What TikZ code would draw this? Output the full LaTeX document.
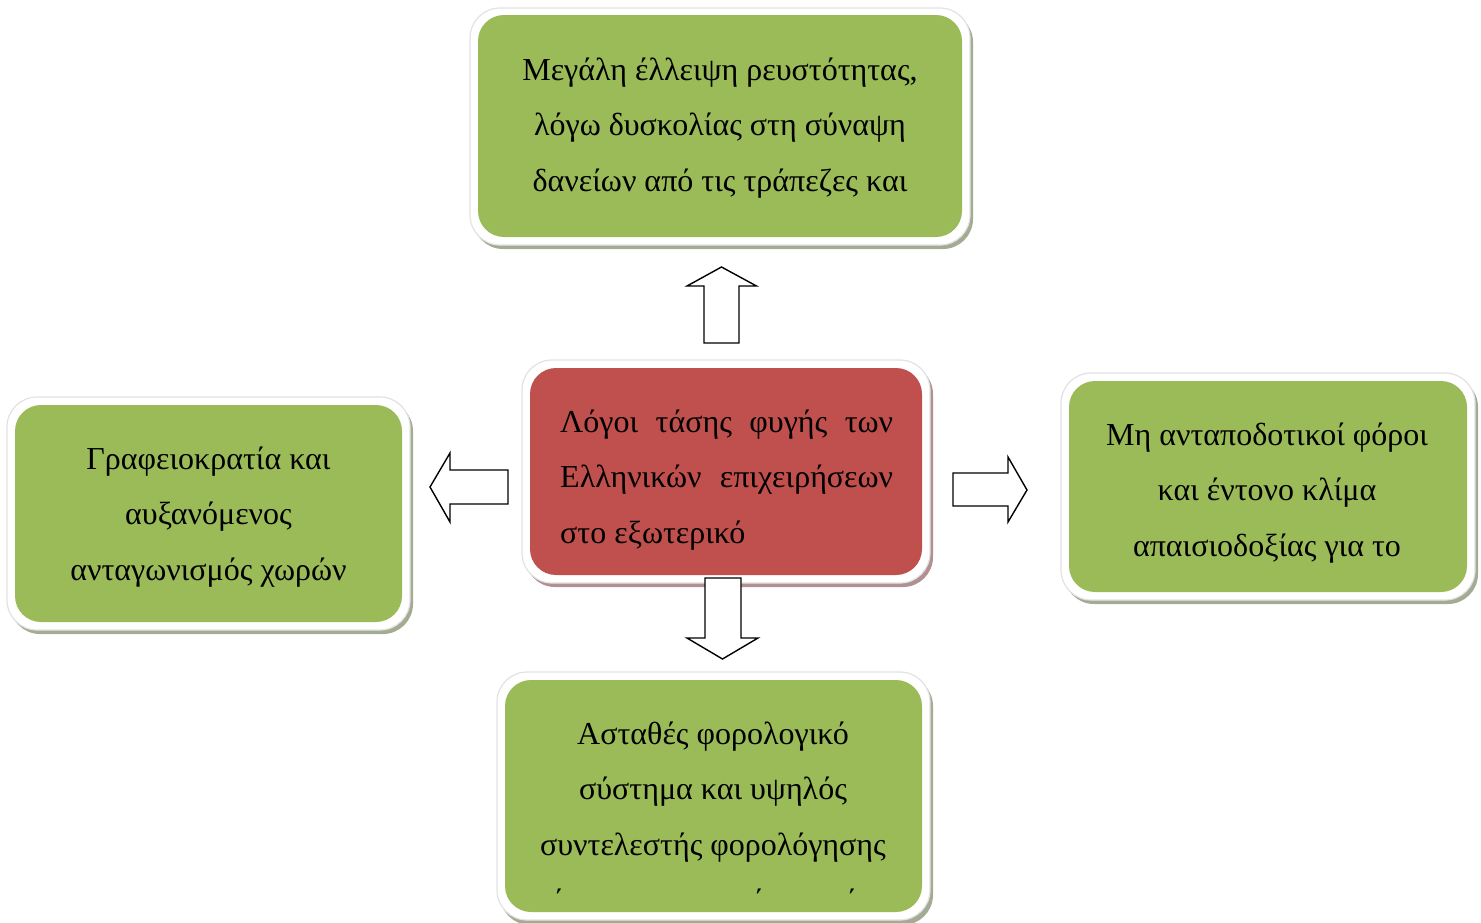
\documentclass[tikz,border=0pt]{standalone}
\usepackage{fontspec}
\setmainfont{Liberation Serif}
\definecolor{boxgreen}{HTML}{9BBB59}
\definecolor{boxred}{HTML}{C0504D}
\definecolor{frameedge}{HTML}{E2E2E2}
\definecolor{shadowgreen}{HTML}{A3AC93}
\definecolor{shadowred}{HTML}{B09090}
\begin{document}
\begin{tikzpicture}[x=1pt,y=-1pt,
  boxfill/.style={rounded corners=26pt, inner sep=0pt},
  frame/.style={rounded corners=30pt, fill=white, draw=frameedge, line width=1.2pt},
  txt/.style={inner sep=0pt, align=center, font=\fontsize{32}{55.5}\selectfont},
  blockarrow/.style={draw=black, line width=1.4pt, fill=white, line join=miter}]
\useasboundingbox (0,0) rectangle (1481,922);

% ---------- top box ----------
\fill[shadowgreen, rounded corners=30pt] (473,12) rectangle (973,249);
\draw[frame] (470,8) rectangle (970,245);
\node[boxfill, fill=boxgreen, minimum width=484pt, minimum height=222pt] (top) at (720,126) {};
\node[txt] (toptext) at (720,128) {Μεγάλη έλλειψη ρευστότητας,\\λόγω δυσκολίας στη σύναψη\\δανείων από τις τράπεζες και};

% ---------- centre box ----------
\fill[shadowred, rounded corners=30pt] (525,364) rectangle (933,587);
\draw[frame] (522,360) rectangle (930,583);
\node[boxfill, fill=boxred, minimum width=392pt, minimum height=207pt] (centre) at (726,471.5) {};
\node[txt, align=left, anchor=west] (centretext) at (560,480) {\makebox[333pt][s]{Λόγοι τάσης φυγής των}\\\makebox[333pt][s]{Ελληνικών επιχειρήσεων}\\στο εξωτερικό};

% ---------- left box ----------
\fill[shadowgreen, rounded corners=30pt] (10,401) rectangle (413,634);
\draw[frame] (7,397) rectangle (410,630);
\node[boxfill, fill=boxgreen, minimum width=387pt, minimum height=217pt] (left) at (208.5,513.5) {};
\node[txt] (lefttext) at (208.5,517) {Γραφειοκρατία και\\αυξανόμενος\\ανταγωνισμός χωρών};

% ---------- right box ----------
\fill[shadowgreen, rounded corners=30pt] (1064,377) rectangle (1478,604);
\draw[frame] (1061,373) rectangle (1475,600);
\node[boxfill, fill=boxgreen, minimum width=398pt, minimum height=211pt] (right) at (1268,486.5) {};
\node[txt] (righttext) at (1267,493) {Μη ανταποδοτικοί φόροι\\και έντονο κλίμα\\απαισιοδοξίας για το};

% ---------- bottom box ----------
\fill[shadowgreen, rounded corners=30pt] (500,676) rectangle (933,925);
\draw[frame] (497,672) rectangle (930,920);
\node[boxfill, fill=boxgreen, minimum width=417pt, minimum height=232pt] (bottom) at (713.5,796) {};
\node[txt] (bottomtext) at (713,792) {Ασταθές φορολογικό\\σύστημα και υψηλός\\συντελεστής φορολόγησης};
\node[txt, anchor=base] (acc1) at (559,911) {΄};
\node[txt, anchor=base] (acc2) at (759,911) {΄};
\node[txt, anchor=base] (acc3) at (852,911) {΄};

% ---------- block arrows ----------
% up
\draw[blockarrow] (704,343) -- (704,286) -- (687,286) -- (721.5,267) -- (756.5,286) -- (739,286) -- (739,343) -- cycle;
% down
\draw[blockarrow] (705,578) -- (741,578) -- (741,638) -- (758,638) -- (722.5,659) -- (687,638) -- (705,638) -- cycle;
% left
\draw[blockarrow] (508,470) -- (450,470) -- (450,453) -- (430,487) -- (450,522) -- (450,504) -- (508,504) -- cycle;
% right
\draw[blockarrow] (953,473) -- (1008,473) -- (1008,457) -- (1027,490) -- (1008,522) -- (1008,506) -- (953,506) -- cycle;
\end{tikzpicture}
\end{document}
